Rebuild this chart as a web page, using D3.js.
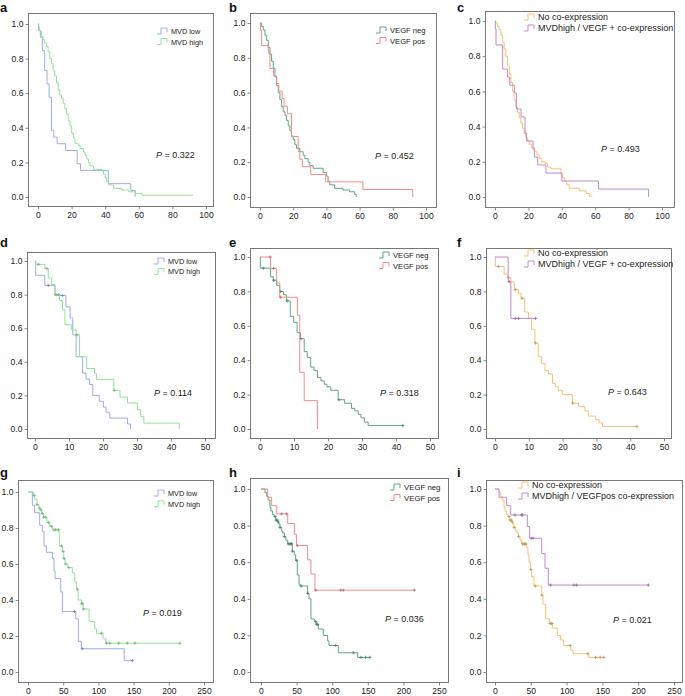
<!DOCTYPE html>
<html><head><meta charset="utf-8">
<script src="https://cdn.jsdelivr.net/npm/d3@7"></script>
<style>
body{margin:0;background:#fff;}
svg{display:block;font-family:"Liberation Sans",Arial,sans-serif;}
</style></head>
<body><svg id="c" width="685" height="696"></svg>
<script>
// ---------- data (time in months, survival proportion) ----------
const yTicks = [0, 0.2, 0.4, 0.6, 0.8, 1.0];
const xTicks100 = [0, 20, 40, 60, 80, 100];
const xTicks50 = [0, 10, 20, 30, 40, 50];
const xTicks250 = [0, 50, 100, 150, 200, 250];
const pValues = ["0.322","0.452","0.493","0.114","0.318","0.643","0.019","0.036","0.021"];
const labMVD = ["MVD low","MVD high"];
const labVEGF = ["VEGF neg","VEGF pos"];
const labCo = ["No co-expression","MVDhigh / VEGF + co-expression"];
const labCo2 = ["No co-expression","MVDhigh / VEGFpos co-expression"];

// panel a
const aLowT = [0.3,1.4,2.6,4,5.4,6.6,8,9.4,11.4,16.5,23.3,25.3,41.8,55.2,57.8];
const aLowS = [0.962,0.923,0.846,0.731,0.654,0.577,0.385,0.346,0.308,0.269,0.192,0.154,0.077,0.038,0];
const aHighT = [0.5,1,2,3,4,5,6,7,8,9,10,11,12,13,14,15,16,17,18,19,20,21,22,24,25,27,28,29,30,31,33,38,39,40,41,42,45,50,54,58,62];
const aHighS = [0.98,0.96,0.93,0.91,0.89,0.87,0.84,0.80,0.77,0.73,0.70,0.66,0.62,0.59,0.57,0.54,0.51,0.48,0.44,0.41,0.37,0.34,0.31,0.30,0.28,0.26,0.24,0.22,0.20,0.18,0.16,0.15,0.13,0.11,0.09,0.07,0.05,0.04,0.03,0.02,0.01];
// panel b
const bNegT = [1,2,3,4,5,6,7,8,9,10,11,12,13,14,15,16,17,18,19,20,21,22,24,26,27,29,30,32,38,40,41,42,45,50,54,57,58];
const bNegS = [0.98,0.96,0.93,0.90,0.86,0.82,0.78,0.74,0.69,0.64,0.60,0.56,0.52,0.49,0.47,0.44,0.41,0.38,0.35,0.33,0.30,0.28,0.26,0.24,0.22,0.20,0.18,0.165,0.14,0.12,0.09,0.07,0.05,0.04,0.03,0.015,0];
const bPosT = [0.3,1,5,6,8.2,10,11.3,13.3,14.5,16.5,19,23,24,25.5,30.6,39.6,62,92];
const bPosS = [0.957,0.870,0.826,0.739,0.696,0.652,0.609,0.565,0.522,0.478,0.348,0.261,0.217,0.174,0.130,0.087,0.043,0];
// panel c
const cNoT = [0.5,1.5,2.5,3.5,4.5,5.5,6.5,7.5,8.5,9.5,10.5,11.5,12.5,13.5,14.5,15.5,16.5,17.5,18.5,19.5,20.5,22,23.5,25,26.5,28,30,31.5,33.5,39.5,40.5,41.5,43,44.5,50.5,54.5,56.5,58];
const cNoS = [0.99,0.97,0.95,0.92,0.88,0.84,0.80,0.75,0.70,0.65,0.60,0.55,0.51,0.48,0.45,0.42,0.39,0.36,0.34,0.32,0.30,0.28,0.26,0.24,0.22,0.20,0.19,0.17,0.16,0.13,0.11,0.09,0.07,0.05,0.035,0.02,0.005,0];
const cCoT = [0.2,0.6,4.6,7.4,8.8,11.6,12.8,15.6,18,18.8,22.8,23.6,25.6,30.5,40,62,92];
const cCoS = [0.955,0.864,0.727,0.682,0.636,0.591,0.5,0.455,0.364,0.318,0.273,0.227,0.182,0.136,0.091,0.045,0];
// panel d
const dLowT = [0.2,2.9,5.9,9.1,10.3,11.1,12.1,14,15,16,17,18.9,20.1,20.9,22,27.2,28.1];
const dLowS = [0.915,0.855,0.795,0.727,0.661,0.56,0.43,0.333,0.297,0.265,0.2,0.165,0.13,0.1,0.065,0.03,0];
const dLowC = [3.9,8.1];
const dHighT = [0.2,2.9,3.9,4.9,5.9,7.2,8.1,8.8,10.8,12.1,13.1,15.2,17.5,18.1,23.2,25,27.2,30.1,31.1,32,42.4];
const dHighS = [0.98,0.955,0.90,0.86,0.80,0.765,0.71,0.62,0.59,0.56,0.43,0.36,0.33,0.295,0.23,0.19,0.155,0.115,0.075,0.035,0];
const dHighC = [1,3.5,6.2,7,12.3,23.3];
// panel e
const eNegT = [0.1,3.1,3.9,4.9,5.8,6.9,7.8,8.9,9.9,10.9,11.9,13,13.9,14.9,15.9,16.9,17.9,18.9,19.7,20.8,23,24.9,26.9,27.9,28.9,29.7,30.7,31.8];
const eNegS = [0.935,0.885,0.865,0.835,0.80,0.78,0.745,0.655,0.62,0.56,0.525,0.45,0.415,0.36,0.34,0.30,0.28,0.26,0.245,0.225,0.17,0.15,0.12,0.105,0.085,0.065,0.04,0.02];
const eNegC = [1,4,6,8,12,23.2,42];
const ePosT = [3.1,4.9,5.8,11,11.7,13,16.9];
const ePosS = [0.934,0.849,0.766,0.661,0.329,0.165,0];
const ePosC = [3,4,6];
// panel f
const fNoT = [0.1,2.7,3.6,4.7,5.7,6.9,7.7,8.8,9.9,10.8,11.8,12.8,13.8,14.8,15.8,17,17.8,18.7,19.9,22.9,24.7,26.6,27.6,29.8,30.8,31.8];
const fNoS = [0.945,0.90,0.88,0.855,0.81,0.79,0.76,0.68,0.645,0.58,0.5,0.42,0.38,0.34,0.32,0.265,0.245,0.225,0.20,0.15,0.13,0.105,0.075,0.055,0.035,0.015];
const fNoC = [1,4,6,8,12,23,42];
const fCoT = [3.9,4.7];
const fCoS = [0.857,0.643];
const fCoC = [4.2,6,7,12];
// panel g
const gLowT = [6.2,9.5,16.6,20.4,22.8,26,34.6,37,38.4,46.5,48.9,67.8,71.6,75.9,136.6];
const gLowS = [0.926,0.885,0.815,0.78,0.70,0.665,0.63,0.561,0.52,0.445,0.336,0.295,0.17,0.129,0.063];
const gLowC = [66,77,148.5];
const gHighT = [7.6,9.5,12.8,15.7,17.5,19.4,22.3,27,30.8,34.6,44,45,48.9,50.8,52.7,57,63,66.4,68.8,71.2,75.9,78.3,86.8,94.9,97.3,106.7,110.5];
const gHighS = [0.98,0.96,0.93,0.91,0.90,0.88,0.86,0.83,0.81,0.79,0.77,0.70,0.67,0.63,0.60,0.58,0.55,0.50,0.46,0.40,0.38,0.35,0.28,0.24,0.215,0.185,0.16];
const gHighC = [9,12.8,16.6,18.5,20.4,22.3,24.7,29.4,33.2,37,39.4,43.2,47.4,49.8,51.2,53.5,58,70.2,76.5,77.3,79.2,104.4,111.5,116.2,129,140.9,151.8,215.8];
// panel h
const hNegT = [5.6,8,10,12.6,14,16,18.5,20.6,23,24.5,26.7,29,30.5,32.8,35,37.5,44,46.8,48.7,51,53.4,54.8,65.5,67.4,70.2,74.9,77.5,80.5,87.5,93.6,95.5,108.6,135.8];
const hNegS = [0.98,0.96,0.94,0.90,0.88,0.86,0.85,0.83,0.82,0.81,0.79,0.77,0.76,0.74,0.72,0.70,0.66,0.64,0.61,0.53,0.48,0.47,0.43,0.40,0.29,0.275,0.26,0.235,0.20,0.17,0.145,0.105,0.08];
const hNegC = [19.7,21.1,22.9,24.3,26.7,32.8,38.4,40.7,42.1,43.1,44,50.1,56.2,65.5,76.8,78.2,79.6,104.9,129.7,140.4,147,153];
const hPosT = [9.4,15,22,37.5,46.8,50,65.5,70.2,75.8];
const hPosS = [0.955,0.909,0.864,0.811,0.753,0.691,0.613,0.536,0.447];
const hPosC = [29,36,51,76.8,112,115.6,215.4];
// panel i
const iNoT = [5.6,8,10,12.6,14,16,18.5,20.5,23,24.5,26.5,29,30.5,32.6,35,37.2,43.8,46,47.5,49.5,51.2,54.5,65.2,67,70.8,76.4,80,87,91.7,95.4,105.7,109,131];
const iNoS = [0.98,0.96,0.94,0.90,0.88,0.86,0.85,0.83,0.82,0.81,0.79,0.77,0.76,0.74,0.72,0.70,0.68,0.64,0.60,0.56,0.52,0.47,0.42,0.37,0.29,0.265,0.24,0.20,0.175,0.145,0.12,0.10,0.08];
const iNoC = [19.7,21.1,22.9,24.3,26.7,33,38.4,40.7,42.1,43.1,50.1,56.2,65.5,76.8,78.2,79.6,104.9,129.7,140.4,147,152];
const iCoT = [5.6,16.3,21.9,45.2,48.4,65.2,69.8,74.5];
const iCoS = [0.955,0.91,0.858,0.795,0.731,0.647,0.567,0.475];
const iCoC = [27.9,37.2,38.2,50.5,53.1,77.3,110.3,114,214.2];

// ---------- styling ----------
const COL = {low:"#9eabe6", high:"#93e397", neg:"#5fa683", pos:"#f58a8a", no:"#f9c073", co:"#c08acf"};

function cv(t,s,c,end,col){return {t,s,c,end,col};}
const panels = [
 {L:"a", lx:0, ly:12, box:[28,213,13,206], xr:[100,38,206], yr:[197,24], xt:xTicks100,
  curves:[cv(aLowT,aLowS,[],57.8,COL.low), cv(aHighT,aHighS,[],92.2,COL.high)],
  leg:{x:157,y:33,fs:7.3,dy:10.5,lab:labMVD,col:[COL.low,COL.high]}, p:{x:156,y:158}},
 {L:"b", lx:229, ly:12, box:[250,436,13,207], xr:[100,260,426], yr:[197,23], xt:xTicks100,
  curves:[cv(bNegT,bNegS,[],58,COL.neg), cv(bPosT,bPosS,[],92,COL.pos)],
  leg:{x:376,y:32,fs:7.6,dy:10.5,lab:labVEGF,col:[COL.neg,COL.pos]}, p:{x:375,y:159}},
 {L:"c", lx:457, ly:12, box:[485,674,11,207], xr:[100,495,662], yr:[197,21], xt:xTicks100,
  curves:[cv(cNoT,cNoS,[],58,COL.no), cv(cCoT,cCoS,[],92,COL.co)],
  leg:{x:524,y:19,fs:9,dy:11,lab:labCo,col:[COL.no,COL.co]}, p:{x:601,y:152}},
 {L:"d", lx:0, ly:247, box:[27,215,252,438], xr:[50,35,205], yr:[429,261], xt:xTicks50,
  curves:[cv(dLowT,dLowS,dLowC,28.1,COL.low), cv(dHighT,dHighS,dHighC,42.4,COL.high)],
  leg:{x:154,y:263,fs:7.3,dy:10.3,lab:labMVD,col:[COL.low,COL.high]}, p:{x:154,y:396}},
 {L:"e", lx:229, ly:247, box:[250,438,248,438], xr:[50,260,430], yr:[429,257], xt:xTicks50,
  curves:[cv(eNegT,eNegS,eNegC,42,COL.neg), cv(ePosT,ePosS,ePosC,16.9,COL.pos)],
  leg:{x:379,y:257,fs:7.6,dy:10.5,lab:labVEGF,col:[COL.neg,COL.pos]}, p:{x:380,y:396}},
 {L:"f", lx:457, ly:247, box:[486,671,248,438], xr:[50,495,664], yr:[429,257], xt:xTicks50,
  curves:[cv(fNoT,fNoS,fNoC,42,COL.no), cv(fCoT,fCoS,fCoC,12,COL.co)],
  leg:{x:524,y:255,fs:9,dy:11,lab:labCo,col:[COL.no,COL.co]}, p:{x:608,y:395}},
 {L:"g", lx:0, ly:477, box:[18,213,480,682], xr:[250,28,204], yr:[672,492], xt:xTicks250,
  curves:[cv(gLowT,gLowS,gLowC,148.5,COL.low), cv(gHighT,gHighS,gHighC,215.8,COL.high)],
  leg:{x:154,y:495,fs:7.3,dy:10.8,lab:labMVD,col:[COL.low,COL.high]}, p:{x:143,y:616}},
 {L:"h", lx:229, ly:477, box:[250,448,478,682], xr:[250,261,439], yr:[672,489], xt:xTicks250,
  curves:[cv(hNegT,hNegS,hNegC,153,COL.neg), cv(hPosT,hPosS,hPosC,215.4,COL.pos)],
  leg:{x:390,y:489,fs:7.8,dy:10.5,lab:labVEGF,col:[COL.neg,COL.pos]}, p:{x:385,y:622}},
 {L:"i", lx:457, ly:477, box:[486,682,480,682], xr:[250,495,674], yr:[672,489], xt:xTicks250,
  curves:[cv(iNoT,iNoS,iNoC,152,COL.no), cv(iCoT,iCoS,iCoC,214.2,COL.co)],
  leg:{x:518,y:487,fs:9,dy:11,lab:labCo2,col:[COL.no,COL.co]}, p:{x:613,y:623}}
];

const svg = d3.select("#c");
function survAt(t,s,x){let v=1;for(let i=0;i<t.length;i++){if(t[i]<=x)v=s[i];else break;}return v;}

panels.forEach((P,k)=>{
  const g = svg.append("g");
  const x = d3.scaleLinear().domain([0,P.xr[0]]).range([P.xr[1],P.xr[2]]);
  const y = d3.scaleLinear().domain([0,1]).range(P.yr);
  const [L,R,T,B] = P.box;
  g.append("rect").attr("x",L+0.5).attr("y",T+0.5).attr("width",R-L).attr("height",B-T)
    .attr("fill","none").attr("stroke","#6a6a6a").attr("stroke-width",0.9);
  const ya = g.append("g").attr("transform",`translate(${L+0.5},0)`)
    .call(d3.axisLeft(y).tickValues(yTicks).tickFormat(d3.format(".1f")).tickSize(3).tickPadding(2));
  const xa = g.append("g").attr("transform",`translate(0,${B+0.5})`)
    .call(d3.axisBottom(x).tickValues(P.xt).tickSize(3).tickPadding(2.5));
  [ya,xa].forEach(a=>{
    a.select(".domain").remove();
    a.selectAll("line").attr("stroke","#6a6a6a").attr("stroke-width",0.8);
    a.selectAll("text").attr("fill","#222").style("font-size","8.6px").style("font-family","'Liberation Sans',Arial,sans-serif");
  });
  const line = d3.line().x(d=>x(d[0])).y(d=>y(d[1])).curve(d3.curveStepAfter);
  P.curves.forEach(c=>{
    const pts = [[0,1]].concat(c.t.map((d,i)=>[d,c.s[i]]));
    pts.push([c.end, c.s[c.s.length-1]]);
    g.append("path").attr("d",line(pts)).attr("fill","none").attr("stroke",c.col).attr("stroke-width",1);
    const cg = g.append("g");
    c.c.forEach(ct=>{
      const cx = x(ct), cy = y(survAt(c.t,c.s,ct));
      cg.append("path").attr("d",`M${cx-1.6},${cy}H${cx+1.6}M${cx},${cy-1.6}V${cy+1.6}`)
        .attr("stroke",d3.color(c.col).darker(0.7)).attr("stroke-width",0.8);
    });
  });
  P.leg.lab.forEach((lab,i)=>{
    const ly = P.leg.y + i*P.leg.dy;
    const lx = P.leg.x;
    g.append("path").attr("d",`M${lx},${ly+1}H${lx+4}V${ly-5}H${lx+10}V${ly-1}`)
      .attr("fill","none").attr("stroke",P.leg.col[i]).attr("stroke-width",1);
    g.append("text").attr("x",lx+14).attr("y",ly+1).text(lab)
      .style("font-size",P.leg.fs+"px").attr("fill","#222");
  });
  const pt = g.append("text").attr("x",P.p.x).attr("y",P.p.y).style("font-size","9px").attr("fill","#222");
  pt.append("tspan").style("font-style","italic").text("P");
  pt.append("tspan").text(" = "+pValues[k]);
  g.append("text").attr("x",P.lx).attr("y",P.ly).text(P.L)
    .style("font-size","13px").style("font-weight","bold").attr("fill","#111");
});
</script></body></html>
